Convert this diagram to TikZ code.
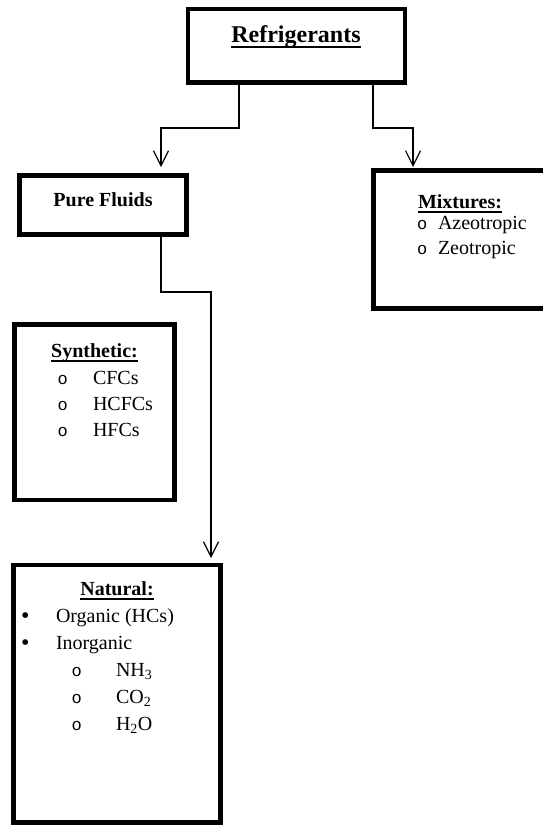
\documentclass[tikz,border=0pt]{standalone}
\usepackage{fontspec}
\setmainfont{Liberation Serif}
\newfontfamily\courierfont{Liberation Mono}
\usetikzlibrary{arrows.meta}
% text with a rule under it: #1 = depth of the rule's lower edge, #2 = rule thickness
\newcommand\rulebelow[3]{\setbox0=\hbox{#3}\rlap{\rule[-#1]{\wd0}{#2}}\box0}
\tikzset{
  box/.style={draw, line width=4.5pt, inner sep=0pt, outer sep=0pt},
  conn/.style={line width=1.2pt, -{Straight Barb[length=15pt,width=15pt]}},
  txt/.style={inner sep=0pt, outer sep=0pt, anchor=base west, font=\fontsize{20}{24}\selectfont},
  head/.style={txt, anchor=base, font=\fontsize{20}{24}\selectfont\bfseries},
  circ/.style={txt, font=\fontsize{17}{20}\selectfont\courierfont},
  blt/.style={txt, font=\fontsize{24}{28}\selectfont},
}
\begin{document}
\begin{tikzpicture}[x=1pt,y=-1pt]
\useasboundingbox (0,0) rectangle (543,825);

% boxes
\node[box, minimum width=217pt, minimum height=73.5pt]  (top) at (296.5,45.75) {};
\node[box, minimum width=167pt, minimum height=59pt]    (pf)  at (103,205) {};
\node[box, minimum width=173.5pt, minimum height=138pt] (mix) at (460.25,239.5) {};
\node[box, minimum width=160pt, minimum height=175.5pt] (syn) at (94.5,412.25) {};
\node[box, minimum width=207pt, minimum height=257.5pt] (nat) at (117,693.75) {};

% title
\node[head, font=\fontsize{24}{28}\selectfont\bfseries] (title) at (296,42)
  {\rulebelow{6.2pt}{2.5pt}{Refrigerants}};

% pure fluids
\node[head] (pft) at (103,206) {Pure Fluids};

% mixtures
\node[txt, font=\fontsize{20}{24}\selectfont\bfseries] (mixh) at (418,208)
  {\rulebelow{4.7pt}{1.5pt}{Mixtures:}};
\node[circ] (mc1) at (417,229) {o};
\node[txt]  (mt1) at (438,229) {Azeotropic};
\node[circ] (mc2) at (417,254) {o};
\node[txt]  (mt2) at (438,254) {Zeotropic};

% synthetic
\node[head] (synh) at (94.5,357) {\rulebelow{4.7pt}{1.5pt}{Synthetic:}};
\node[circ] (sc1) at (57.5,384) {o};
\node[txt]  (st1) at (93,384) {CFCs};
\node[circ] (sc2) at (57.5,410) {o};
\node[txt]  (st2) at (93,410) {HCFCs};
\node[circ] (sc3) at (57.5,436) {o};
\node[txt]  (st3) at (93,436) {HFCs};

% natural
\node[head] (nath) at (117,595) {\rulebelow{4.7pt}{1.5pt}{Natural:}};
\node[blt]  (nb1) at (21.2,623.5) {•};
\node[txt]  (nt1) at (56,622) {Organic (HCs)};
\node[blt]  (nb2) at (21.2,650.5) {•};
\node[txt]  (nt2) at (56,649) {Inorganic};
\node[circ] (nc1) at (71.5,676) {o};
\node[txt]  (nt3) at (116,676) {NH\textsubscript{3}};
\node[circ] (nc2) at (71.5,703) {o};
\node[txt]  (nt4) at (116,703) {CO\textsubscript{2}};
\node[circ] (nc3) at (71.5,730) {o};
\node[txt]  (nt5) at (116,730) {H\textsubscript{2}O};

% connectors
\draw[conn] ([xshift=-57.5pt]top.south) |- ([xshift=58pt,yshift=47.5pt]pf.north)
            -- ([xshift=58pt,yshift=8.5pt]pf.north);
\draw[conn] ([xshift=76.5pt]top.south) |- ([xshift=-47.25pt,yshift=42.5pt]mix.north)
            -- ([xshift=-47.25pt,yshift=3.5pt]mix.north);
\draw[conn] ([xshift=58pt]pf.south) |- ([xshift=94pt,yshift=273pt]nat.north)
            -- ([xshift=94pt,yshift=7pt]nat.north);
\end{tikzpicture}
\end{document}
